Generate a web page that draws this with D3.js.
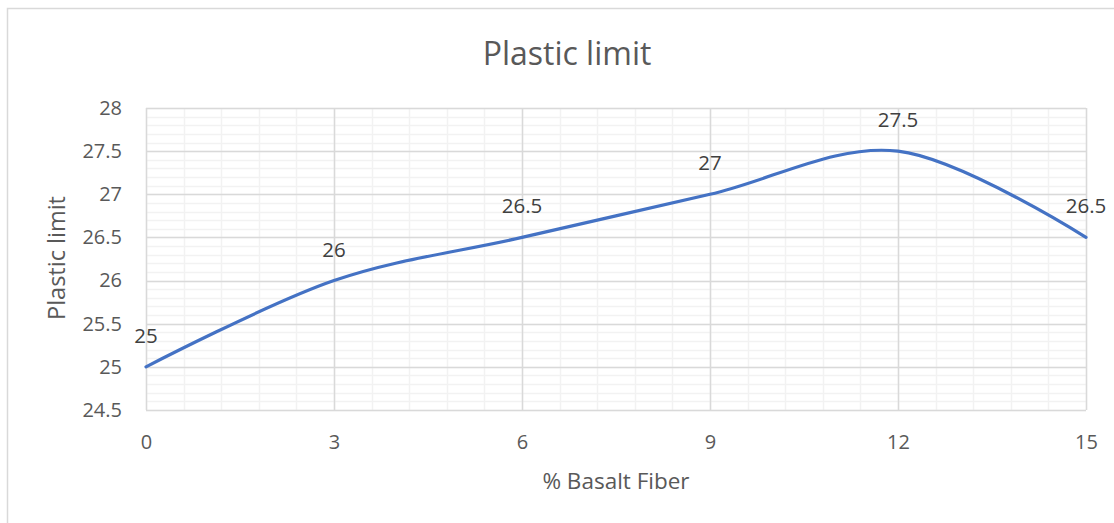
<!DOCTYPE html>
<html>
<head>
<meta charset="utf-8">
<script src="https://cdn.jsdelivr.net/npm/d3@7/dist/d3.min.js"></script>
<style>
  html, body { margin: 0; padding: 0; background: #fff; }
  svg { display: block; }
  text { font-family: "Open Sans", "Noto Sans", sans-serif; }
</style>
</head>
<body>
<svg id="chart" width="1114" height="523"></svg>
<script>
// Plastic limit against basalt fibre content
const fiberPct = [0, 3, 6, 9, 12, 15];
const plasticLimit = [25, 26, 26.5, 27, 27.5, 26.5];
const xTicks = [0, 3, 6, 9, 12, 15];
const yTicks = [24.5, 25, 25.5, 26, 26.5, 27, 27.5, 28];
const chartTitle = "Plastic limit";
const xTitle = "% Basalt Fiber";
const yTitle = "Plastic limit";

const svg = d3.select("#chart");
const W = 1114, H = 523;
const plot = { left: 146, right: 1086, top: 108, bottom: 410 };

// chart frame
svg.append("rect")
  .attr("x", 7.5).attr("y", 8.5)
  .attr("width", W + 10).attr("height", H + 10)
  .attr("fill", "#fff").attr("stroke", "#d9d9d9").attr("stroke-width", 1.5);

const x = d3.scaleLinear().domain([0, 15]).range([plot.left, plot.right]);
const y = d3.scaleLinear().domain([24.5, 28]).range([plot.bottom, plot.top]);

const grid = svg.append("g");

// minor gridlines
const minorY = d3.range(24.5, 28.0001, 0.1).map(v => +v.toFixed(1));
const minorX = d3.range(0, 15.0001, 0.6).map(v => +v.toFixed(1));
grid.selectAll(".minor-h").data(minorY).join("line")
  .attr("x1", plot.left).attr("x2", plot.right)
  .attr("y1", d => Math.round(y(d)) + 0.5).attr("y2", d => Math.round(y(d)) + 0.5)
  .attr("stroke", "#f2f2f2").attr("stroke-width", 1.5);
grid.selectAll(".minor-v").data(minorX).join("line")
  .attr("y1", plot.top).attr("y2", plot.bottom)
  .attr("x1", d => Math.round(x(d)) + 0.5).attr("x2", d => Math.round(x(d)) + 0.5)
  .attr("stroke", "#f2f2f2").attr("stroke-width", 1.5);

// major gridlines
grid.selectAll(".major-h").data(yTicks).join("line")
  .attr("x1", plot.left).attr("x2", plot.right)
  .attr("y1", d => Math.round(y(d)) + 0.5).attr("y2", d => Math.round(y(d)) + 0.5)
  .attr("stroke", "#d9d9d9").attr("stroke-width", 1.5);
grid.selectAll(".major-v").data(xTicks).join("line")
  .attr("y1", plot.top).attr("y2", plot.bottom)
  .attr("x1", d => Math.round(x(d)) + 0.5).attr("x2", d => Math.round(x(d)) + 0.5)
  .attr("stroke", "#d9d9d9").attr("stroke-width", 1.5);

// axes (labels only)
const xAxis = d3.axisBottom(x).tickValues(xTicks).tickSize(0).tickPadding(25).tickFormat(d3.format("d"));
const yAxis = d3.axisLeft(y).tickValues(yTicks).tickSize(0).tickPadding(24).tickFormat(d => String(d));

const gx = svg.append("g").attr("transform", `translate(0,${plot.bottom})`).call(xAxis);
const gy = svg.append("g").attr("transform", `translate(${plot.left},0)`).call(yAxis);
[gx, gy].forEach(g => {
  g.select(".domain").remove();
  g.selectAll("text").attr("fill", "#595959").style("font-size", "20px")
    .style("font-family", "'Open Sans', sans-serif");
});

// smoothed series line
const line = d3.line()
  .x((d, i) => x(fiberPct[i]))
  .y(d => y(d))
  .curve(d3.curveCardinal.tension(0));

svg.append("path")
  .datum(plasticLimit)
  .attr("d", line)
  .attr("fill", "none")
  .attr("stroke", "#4472c4")
  .attr("stroke-width", 3.2)
  .attr("stroke-linecap", "round");

// data labels
svg.append("g").selectAll("text").data(plasticLimit).join("text")
  .attr("x", (d, i) => x(fiberPct[i]))
  .attr("y", d => y(d) - 24)
  .attr("text-anchor", "middle")
  .attr("fill", "#404040")
  .style("font-size", "20.5px")
  .text(d => String(d));

// titles
svg.append("text")
  .attr("x", 567).attr("y", 65)
  .attr("text-anchor", "middle")
  .attr("fill", "#595959")
  .style("font-size", "32px")
  .text(chartTitle);

svg.append("text")
  .attr("x", 616).attr("y", 489)
  .attr("text-anchor", "middle")
  .attr("fill", "#595959")
  .style("font-size", "22.5px")
  .text(xTitle);

svg.append("text")
  .attr("transform", "translate(65,258) rotate(-90)")
  .attr("text-anchor", "middle")
  .attr("fill", "#595959")
  .style("font-size", "23.5px")
  .text(yTitle);
</script>
</body>
</html>
